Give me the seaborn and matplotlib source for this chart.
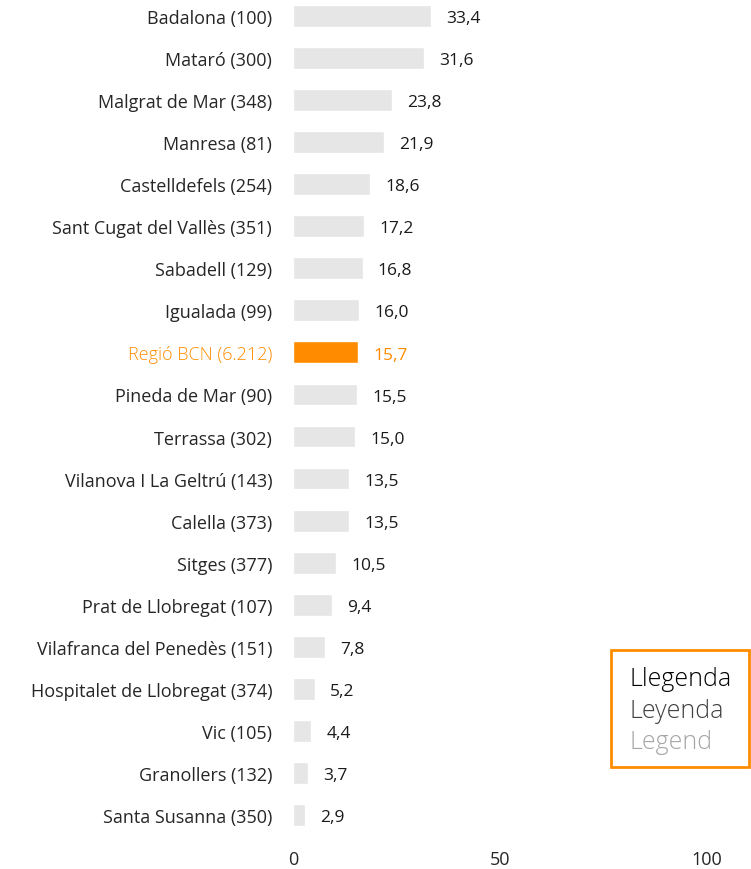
import matplotlib
matplotlib.use("Agg")
import matplotlib.pyplot as plt
import seaborn as sns
import pandas as pd
from matplotlib.patches import Rectangle

# Data
cities = ['Badalona (100)', 'Mataró (300)', 'Malgrat de Mar (348)', 'Manresa (81)',
          'Castelldefels (254)', 'Sant Cugat del Vallès (351)', 'Sabadell (129)',
          'Igualada (99)', 'Regió BCN (6.212)', 'Pineda de Mar (90)', 'Terrassa (302)',
          'Vilanova I La Geltrú (143)', 'Calella (373)', 'Sitges (377)',
          'Prat de Llobregat (107)', 'Vilafranca del Penedès (151)',
          'Hospitalet de Llobregat (374)', 'Vic (105)', 'Granollers (132)',
          'Santa Susanna (350)']
values = [33.4, 31.6, 23.8, 21.9, 18.6, 17.2, 16.8, 16.0, 15.7, 15.5, 15.0,
          13.5, 13.5, 10.5, 9.4, 7.8, 5.2, 4.4, 3.7, 2.9]
highlight = 'Regió BCN (6.212)'
legend_lines = ['Llegenda', 'Leyenda', 'Legend']
legend_colors = ['#000000', '#404040', '#a6a6a6']

GREY = '#e6e6e6'
ORANGE = '#ff8c00'

sns.set_style('white')
plt.rcParams['font.family'] = ['Open Sans', 'DejaVu Sans']

df = pd.DataFrame({'city': cities, 'value': values})
palette = {c: (ORANGE if c == highlight else GREY) for c in cities}

fig = plt.figure(figsize=(7.51, 8.70), dpi=100)
ax = fig.add_axes([293 / 751, (870 - 845) / 870, 414 / 751, 845 / 870])

sns.barplot(data=df, y='city', x='value', hue='city', palette=palette,
            legend=False, width=0.52, ax=ax, saturation=1)

ax.set_xlim(0, 100)
ax.set_ylim(19.69, -0.404)
ax.set_xticks([0, 50, 100])
ax.set_xlabel('')
ax.set_ylabel('')
sns.despine(ax=ax, left=True, bottom=True)
ax.tick_params(axis='both', length=0, labelsize=13)
ax.tick_params(axis='y', pad=15)
ax.tick_params(axis='x', pad=4)

for lbl in ax.get_yticklabels():
    if lbl.get_text() == highlight:
        lbl.set_color(ORANGE)
        lbl.set_fontweight('light')

for i, (c, v) in enumerate(zip(cities, values)):
    col = ORANGE if c == highlight else '#1a1a1a'
    ax.text(v + 3.7, i + 0.05, f'{v:.1f}'.replace('.', ','), va='center',
            ha='left', fontsize=12.5, color=col)

# Legend box
fig.patches.append(Rectangle((611 / 751, (870 - 768) / 870), 138 / 751, 117 / 870,
                             transform=fig.transFigure, fill=False,
                             edgecolor=ORANGE, linewidth=2))
for k, (t, c) in enumerate(zip(legend_lines, legend_colors)):
    fig.text(630 / 751, (870 - (680 + 31.5 * k)) / 870, t, color=c, fontsize=18,
             fontweight='light', va='center', ha='left')

fig.savefig('out.png', dpi=100)
